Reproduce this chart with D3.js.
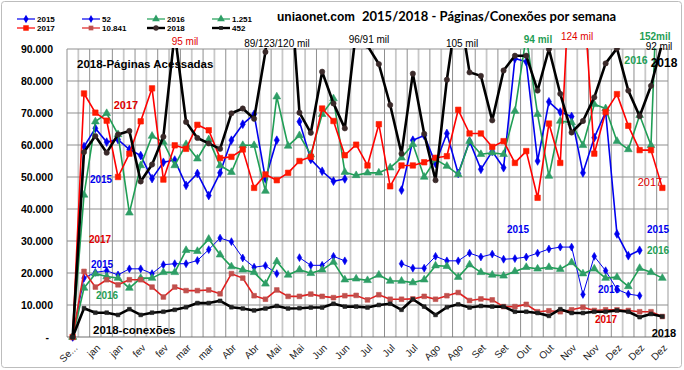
<!DOCTYPE html>
<html>
<head>
<meta charset="utf-8">
<script src="https://cdn.jsdelivr.net/npm/d3@7"></script>
<style>
body { margin: 0; background: #fff; }
text { font-family: Arial, "Liberation Sans", sans-serif; }
</style>
</head>
<body>
<div id="main"></div>
<script>
// =========================== data ===========================
// 53 weeks, only every second one has a label on the axis
const weeks = d3.range(53);
const tickLabels = ['Se...','jan','jan','fev','fev','mar','mar','Abr','Abr','Mai','Mai','Jun','Jun',
	'Jul','Jul','Jul','Ago','Ago','Set','Set','Out','Out','Nov','Nov','Dez','Dez','Dez'];

// pages per week, thousands (null = no data)
const pages2015 = [0,59.5,65.2,60.9,61.7,58.6,56.7,49.5,54.6,55.3,47.4,51.1,44.2,51.3,61.5,66.5,69.6,49.4,61.5,null,
	67.3,55.5,51.8,48.7,49.4,null,null,null,null,45.9,61.5,63.0,54.2,63.6,51.1,61.2,52.4,58.0,52.9,87,
	86,55.0,73.5,70.3,68.9,51.3,62.3,70.3,32.2,25.4,27.1,null,null];
const pages2016 = [0,44.4,67.3,69.9,63.3,38.8,53.6,62.8,60.9,53.6,60.2,55.7,61.7,53.6,51.5,59.9,59.9,45.6,75.1,59.7,
	63.0,57.0,69.6,74.5,51.5,50.5,51.3,51.3,52.9,56.0,60.2,50.0,55.5,53.4,50.8,61.2,57.1,57.6,57.1,70.6,
	94,69.6,50.3,67.5,67.0,59.9,72.7,71.4,61.2,58.6,69.3,59.9,152];
const pages2017 = [0,76.1,70.1,67.6,50.0,57.3,67.4,77.7,49.2,59.9,58.8,66.3,64.6,55.9,56.3,58.6,46.6,50.8,49.0,51.3,
	55.0,56.3,71.4,67.5,56.8,60.1,53.6,66.5,47.1,53.6,53.6,54.6,56.0,56.5,71.0,63.6,63.6,59.4,61.2,54.4,
	58.1,43.5,66.7,54.4,124,110,57.3,70.3,75.9,66.0,58.4,58.4,46.6];
const pages2018 = [0,57.8,62.8,57.6,63.3,64.4,48.6,53.9,62.6,95,67.2,62.2,60.5,58.8,69.9,71.4,68.2,89.1,123,120,
	70.1,63.8,82.9,73.0,65.2,96,91,85.3,72.5,57.3,82.3,63.5,49.0,80.4,105,82.7,81.6,67.7,83.3,87.9,
	87.9,77.0,90,76.0,63.9,67.5,74.9,85.5,90.2,77.0,69.0,78.5,92];

// connections per week, thousands
const conn2015 = [0,18.4,20.2,20.7,19.4,21.3,21.3,19.8,22.6,22.9,22.9,23.9,27.3,30.9,29.8,24.7,21.8,22.3,19.8,null,
	24.8,22.4,22.4,25.2,23.8,null,null,null,null,22.9,21.5,21.5,25.2,23.8,23.8,26.2,25.0,25.9,24.3,24.5,
	25.0,26.2,27.5,28.1,28.1,13.3,25.2,20.7,14.9,13.4,12.9,null,null];
const conn2016 = [0,15.3,19.8,18.9,18.4,15.3,18.4,18.4,20.2,20.2,27.1,26.8,30.6,25.7,22.0,21.0,20.2,16.6,23.6,19.4,
	21.0,19.9,21.0,23.4,17.9,18.2,17.7,19.4,17.5,17.5,17.0,17.9,22.3,22.1,18.7,22.6,20.2,19.4,19.1,20.5,
	21.8,21.3,21.8,21.2,23.3,19.8,21.3,18.4,18.7,15.8,21.5,20.2,18.4];
const conn2017 = [0,20.5,15.6,17.9,16.3,17.9,17.9,15.6,12.5,15.6,14.5,14.5,14.7,13.5,19.8,18.4,12.9,11.8,14.7,12.7,
	12.7,13.4,12.7,12.3,12.9,13.0,11.6,13.2,11.8,11.8,11.9,12.7,11.8,12.9,13.9,11.4,11.9,11.6,9.5,9.5,
	10.2,7.9,8.2,7.9,8.5,9.3,8.3,8.5,8.5,8.3,7.9,7.9,6.4];
const conn2018 = [0,9.0,7.6,7.6,6.9,8.7,6.9,7.6,7.9,8.5,9.3,10.6,10.6,11.3,9.3,8.9,8.3,8.9,9.7,8.9,
	9.0,9.2,9.2,10.4,9.5,9.5,9.2,10.0,10.4,8.5,11.8,9.5,6.9,9.3,10.2,9.2,9.7,9.5,9.5,7.9,
	7.9,7.5,6.6,8.7,7.5,7.5,7.9,7.9,8.3,7.9,6.2,7.2,6.4];

// legend names, in drawing order
const seriesNames = ['2015','52','2016','1.251','2017','10.841','2018','452'];

// ======================= style table =========================
const blue = '#0000ee', green = '#1f9e55', red = '#ff0000', black = '#000';
const series = [
	{name: seriesNames[0], data: pages2015, color: blue,  width: 1.6, sym: d3.symbolDiamond,  size: 22, fill: blue},
	{name: seriesNames[1], data: conn2015,  color: blue,  width: 1,   sym: d3.symbolDiamond,  size: 18, fill: blue},
	{name: seriesNames[2], data: pages2016, color: green, width: 1.6, sym: d3.symbolTriangle, size: 26, fill: '#2e9e66'},
	{name: seriesNames[3], data: conn2016,  color: green, width: 1.6, sym: d3.symbolTriangle, size: 26, fill: '#2e9e66'},
	{name: seriesNames[4], data: pages2017, color: red,   width: 1.6, sym: d3.symbolSquare,   size: 30, fill: '#ff1a00'},
	{name: seriesNames[5], data: conn2017,  color: '#e02020', width: 1.6, sym: d3.symbolSquare, size: 22, fill: '#c0504d'},
	{name: seriesNames[6], data: pages2018, color: black, width: 2.6, sym: d3.symbolCircle,   size: 22, fill: '#3a2a2a'},
	{name: seriesNames[7], data: conn2018,  color: black, width: 2.6, sym: d3.symbolSquare,   size: 14, fill: '#222'}
];

// ======================= svg container =======================
const W = 684, H = 370;
const plot = {left: 67, right: 668, top: 49, bottom: 337};

const svg = d3.select('#main').append('svg')
	.attr('width', W)
	.attr('height', H);

svg.append('rect')
	.attr('x', 1.5).attr('y', 1.5)
	.attr('width', W - 4).attr('height', H - 4)
	.attr('rx', 3)
	.style('fill', '#fff')
	.style('stroke', '#bdbdbd');

const x = d3.scaleBand()
	.domain(weeks)
	.range([plot.left, plot.right]);
const cx = i => x(i) + x.bandwidth() / 2;

const y = d3.scaleLinear()
	.domain([0, 90000])
	.range([plot.bottom, plot.top]);

// ========================== grid =============================
const grid = svg.append('g');
grid.selectAll('line.v')
	.data(d3.range(54))
	.enter().append('line')
	.attr('class', 'v')
	.attr('x1', i => i < 53 ? x(i) : plot.right)
	.attr('x2', i => i < 53 ? x(i) : plot.right)
	.attr('y1', plot.top)
	.attr('y2', plot.bottom)
	.style('stroke', i => i % 2 ? '#c8c8c8' : '#8f8f8f')
	.style('stroke-width', i => i % 2 ? 1.8 : 1);

grid.selectAll('line.h')
	.data(y.ticks(9))
	.enter().append('line')
	.attr('class', 'h')
	.attr('x1', plot.left)
	.attr('x2', plot.right)
	.attr('y1', d => y(d))
	.attr('y2', d => y(d))
	.style('stroke', d => d === 0 ? '#6f6f6f' : '#8f8f8f');

// =========================== axes ============================
const yAxis = d3.axisLeft(y)
	.tickValues(d3.range(0, 90001, 10000))
	.tickSize(0)
	.tickPadding(14)
	.tickFormat(d => d === 0 ? '-' : d3.format(',')(d).replace(/,/g, '.'));

svg.append('g')
	.attr('transform', 'translate(' + plot.left + ',0)')
	.call(yAxis)
	.call(g => g.select('.domain').remove())
	.selectAll('text')
	.attr('dx', d => d === 0 ? -4 : 0)
	.style('font-family', 'Arial, "Liberation Sans", sans-serif')
	.style('font-size', '10.5px')
	.style('font-weight', 'bold')
	.style('fill', '#000');

const xAxis = d3.axisBottom(x)
	.tickValues(weeks.filter(i => i % 2 === 0))
	.tickSize(0)
	.tickFormat(i => tickLabels[i / 2]);

svg.append('g')
	.attr('transform', 'translate(0,' + plot.bottom + ')')
	.call(xAxis)
	.call(g => g.select('.domain').remove())
	.selectAll('text')
	.attr('y', 0)
	.attr('dy', '0.35em')
	.attr('transform', 'translate(3,9) rotate(-45)')
	.style('text-anchor', 'end')
	.style('font-family', 'Arial, "Liberation Sans", sans-serif')
	.style('font-size', '10px')
	.style('fill', '#222');

// ========================== series ===========================
svg.append('clipPath').attr('id', 'clip')
	.append('rect')
	.attr('x', plot.left - 6).attr('y', plot.top - 1)
	.attr('width', plot.right - plot.left + 12)
	.attr('height', plot.bottom - plot.top + 8);

const lines = svg.append('g').attr('clip-path', 'url(#clip)');
const line = d3.line()
	.defined(d => d != null)
	.x((d, i) => cx(i))
	.y(d => y(d * 1000));

series.forEach(function(s){
	lines.append('path')
		.datum(s.data)
		.attr('d', line)
		.style('fill', 'none')
		.style('stroke', s.color)
		.style('stroke-width', s.width)
		.style('stroke-linejoin', 'round');

	lines.selectAll(null)
		.data(s.data.map((v, i) => [i, v]).filter(p => p[1] != null))
		.enter().append('path')
		.attr('d', d3.symbol().type(s.sym).size(s.size))
		.attr('transform', p => 'translate(' + cx(p[0]) + ',' + y(p[1] * 1000) + ')')
		.style('fill', s.fill)
		.style('stroke', s.fill)
		.style('stroke-width', 0.6);
});

// ========================== legend ===========================
const legend = svg.append('g');
series.forEach(function(s, k){
	var lx = 17 + 65 * (k % 4);
	var ly = k < 4 ? 19 : 28;
	legend.append('line')
		.attr('x1', lx).attr('x2', lx + 18)
		.attr('y1', ly).attr('y2', ly)
		.style('stroke', s.color)
		.style('stroke-width', s.width > 2 ? 2.4 : 1.2);
	legend.append('path')
		.attr('d', d3.symbol().type(s.sym).size(s.size))
		.attr('transform', 'translate(' + (lx + 9) + ',' + ly + ')')
		.style('fill', s.fill);
	legend.append('text')
		.attr('x', lx + 20).attr('y', ly + 3)
		.style('font-size', '8px')
		.style('font-weight', 'bold')
		.text(s.name);
});

// ========================== texts ============================
svg.append('text')
	.attr('x', 277).attr('y', 21)
	.style('font-size', '12px')
	.style('font-weight', 'bold')
	.text('uniaonet.com');
svg.append('text')
	.attr('x', 362).attr('y', 21)
	.style('font-family', 'Lato, sans-serif')
	.style('font-size', '13px')
	.style('font-weight', 'bold')
	.text('2015/2018 - Páginas/Conexões por semana');

// notes: [text, x, y, colour, size, bold, anchor]
const notes = [
	['2018-Páginas Acessadas', 77, 68, black, 11.5, true, 'start'],
	['2017', 126, 109, '#e00000', 11, true, 'middle'],
	['2015', 101, 183, blue, 10, true, 'middle'],
	['95 mil', 185, 45, '#e00000', 10, false, 'middle'],
	['89/123/120 mil', 277, 47, black, 10, false, 'middle'],
	['96/91 mil', 369, 43, black, 10, false, 'middle'],
	['105 mil', 462, 47, black, 10, false, 'middle'],
	['94 mil', 538, 43, green, 10, true, 'middle'],
	['124 mil', 577, 40, '#e00000', 10, false, 'middle'],
	['152mil', 655, 40, green, 10, true, 'middle'],
	['92 mil', 659, 50, black, 10, false, 'middle'],
	['2016', 636, 64, green, 10.5, true, 'middle'],
	['2018', 664, 67, black, 12, true, 'middle'],
	['2017', 650, 186, '#e00000', 11, false, 'middle'],
	['2017', 100, 243, '#e00000', 10, true, 'middle'],
	['2015', 102, 268, blue, 10, true, 'middle'],
	['2016', 107, 299, green, 10, true, 'middle'],
	['2018-conexões', 93, 334, black, 11.5, true, 'start'],
	['2015', 518, 233, blue, 10, true, 'middle'],
	['2015', 658, 233, blue, 10, true, 'middle'],
	['2016', 658, 254, green, 10, true, 'middle'],
	['2016', 609, 293, blue, 10, true, 'middle'],
	['2017', 606, 323, '#e00000', 10, true, 'middle'],
	['2018', 664, 337, black, 11, true, 'middle']
];
svg.selectAll('text.note')
	.data(notes)
	.enter().append('text')
	.attr('class', 'note')
	.attr('x', d => d[1]).attr('y', d => d[2])
	.style('fill', d => d[3])
	.style('font-size', d => d[4] + 'px')
	.style('font-weight', d => d[5] ? 'bold' : 'normal')
	.style('text-anchor', d => d[6])
	.text(d => d[0]);
</script>
</body>
</html>
